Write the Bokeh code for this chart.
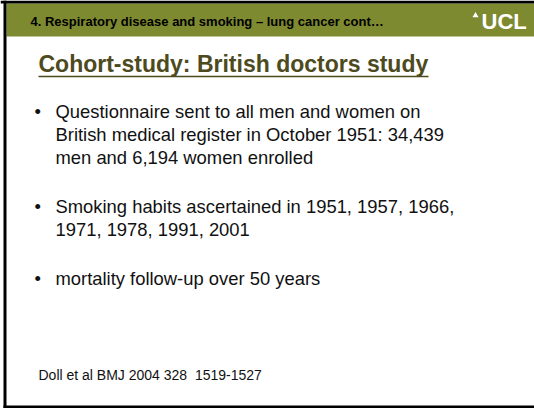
from bokeh.plotting import figure
from bokeh.models import Range1d
from bokeh.core.properties import value
from bokeh.embed import file_html
from bokeh.resources import INLINE

# ---- slide content ----
header_text = "4. Respiratory disease and smoking \u2013 lung cancer cont\u2026"
logo_text = "UCL"
title_text = "Cohort-study: British doctors study"
bullets = [
    ["Questionnaire sent to all men and women on",
     "British medical register in October 1951: 34,439",
     "men and 6,194 women enrolled"],
    ["Smoking habits ascertained in 1951, 1957, 1966,",
     "1971, 1978, 1991, 2001"],
    ["mortality follow-up over 50 years"],
]
footer_text = "Doll et al BMJ 2004 328\u00a0 1519-1527"

# ---- layout (slide pixel units) ----
W, H = 534, 408
FONT = value("Liberation Sans")
GREEN = "#7e8a30"
OLIVE = "#4d4a1d"
TEXT = "#111111"
BASE_SHIFT = 0.35  # renderer places 'alphabetic' text about 0.35em low


def base(y, size):
    return y - BASE_SHIFT * size


p = figure(width=W, height=H, x_range=Range1d(0, W), y_range=Range1d(H, 0),
           output_backend="svg", toolbar_location=None, min_border=0,
           x_axis_location=None, y_axis_location=None, tools="")
p.grid.visible = False
p.outline_line_color = None
p.background_fill_color = "white"
p.border_fill_color = "white"

# header band and frame
p.quad(left=[6], right=[W], top=[3], bottom=[36], fill_color=GREEN, line_color=None)
p.quad(left=[0, 3, 3], right=[W, 6, W], top=[0, 0, 405], bottom=[3, H, H],
       fill_color="black", line_color=None)

# header text
p.text(x=[30], y=[base(26, 13)], text=[header_text], text_font=FONT,
       text_font_style="bold", text_font_size="13px", text_color="black",
       text_baseline="alphabetic")

# logo
p.scatter(x=[475], y=[15], marker="triangle", size=6, fill_color="white", line_color=None)
p.text(x=[481], y=[base(29, 22)], text=[logo_text], text_font=FONT, text_font_style="bold",
       text_font_size="22px", text_color="white", text_baseline="alphabetic")

# title with underline
title_x, title_base, title_size = 38, 72, 23
p.text(x=[title_x], y=[base(title_base, title_size)], text=[title_text], text_font=FONT,
       text_font_style="bold", text_font_size=f"{title_size}px", text_color=OLIVE,
       text_baseline="alphabetic")
p.segment(x0=[title_x], y0=[76], x1=[title_x + 390], y1=[76], line_color=OLIVE, line_width=1.7)

# bullets
body_size = 18.4
bullet_bases = [117.5, 212.5, 284.5]
line_gap = 23
xs, ys, txt = [], [], []
bx, by = [], []
for b0, lines in zip(bullet_bases, bullets):
    bx.append(34)
    by.append(base(b0, body_size))
    for i, line in enumerate(lines):
        xs.append(55)
        ys.append(base(b0 + i * line_gap, body_size))
        txt.append(line)
p.text(x=bx, y=by, text=["\u2022"] * len(bx), text_font=FONT, text_font_size=f"{body_size}px",
       text_color=TEXT, text_baseline="alphabetic")
p.text(x=xs, y=ys, text=txt, text_font=FONT, text_font_size=f"{body_size}px",
       text_color=TEXT, text_baseline="alphabetic")

# footer
p.text(x=[38], y=[base(379, 14)], text=[footer_text], text_font=FONT, text_font_size="14px",
       text_color=TEXT, text_baseline="alphabetic")

open("out.html", "w").write(file_html(p, INLINE))
